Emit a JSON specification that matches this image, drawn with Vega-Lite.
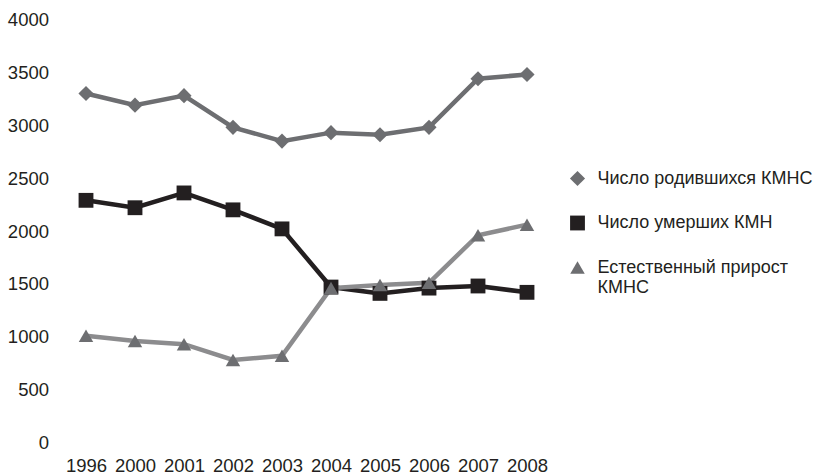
{
  "$schema": "https://vega.github.io/schema/vega-lite/v6.json",
  "width": 490,
  "height": 423,
  "autosize": {"type": "none"},
  "padding": {"left": 61.5, "top": 19.5, "right": 270.5, "bottom": 33.5},
  "background": "white",
  "config": {
    "view": {"stroke": null},
    "font": "Liberation Sans",
    "axis": {"labelFont": "Liberation Sans", "labelFontSize": 18.5, "labelColor": "#231f20", "domain": false, "ticks": false, "tickSize": 0, "grid": false, "title": null},
    "legend": {"labelFont": "Liberation Sans", "labelFontSize": 18, "labelColor": "#231f20"}
  },
  "data": {
    "values": [
      {"year": "1996", "series": "Число родившихся КМНС", "value": 3300},
      {"year": "2000", "series": "Число родившихся КМНС", "value": 3190},
      {"year": "2001", "series": "Число родившихся КМНС", "value": 3280},
      {"year": "2002", "series": "Число родившихся КМНС", "value": 2980},
      {"year": "2003", "series": "Число родившихся КМНС", "value": 2850},
      {"year": "2004", "series": "Число родившихся КМНС", "value": 2930},
      {"year": "2005", "series": "Число родившихся КМНС", "value": 2910},
      {"year": "2006", "series": "Число родившихся КМНС", "value": 2980},
      {"year": "2007", "series": "Число родившихся КМНС", "value": 3440},
      {"year": "2008", "series": "Число родившихся КМНС", "value": 3480},
      {"year": "1996", "series": "Число умерших КМН", "value": 2290},
      {"year": "2000", "series": "Число умерших КМН", "value": 2220},
      {"year": "2001", "series": "Число умерших КМН", "value": 2360},
      {"year": "2002", "series": "Число умерших КМН", "value": 2200},
      {"year": "2003", "series": "Число умерших КМН", "value": 2020},
      {"year": "2004", "series": "Число умерших КМН", "value": 1470},
      {"year": "2005", "series": "Число умерших КМН", "value": 1410},
      {"year": "2006", "series": "Число умерших КМН", "value": 1460},
      {"year": "2007", "series": "Число умерших КМН", "value": 1480},
      {"year": "2008", "series": "Число умерших КМН", "value": 1420},
      {"year": "1996", "series": "Естественный прирост КМНС", "value": 1010},
      {"year": "2000", "series": "Естественный прирост КМНС", "value": 960},
      {"year": "2001", "series": "Естественный прирост КМНС", "value": 930},
      {"year": "2002", "series": "Естественный прирост КМНС", "value": 780},
      {"year": "2003", "series": "Естественный прирост КМНС", "value": 820},
      {"year": "2004", "series": "Естественный прирост КМНС", "value": 1460},
      {"year": "2005", "series": "Естественный прирост КМНС", "value": 1490},
      {"year": "2006", "series": "Естественный прирост КМНС", "value": 1510},
      {"year": "2007", "series": "Естественный прирост КМНС", "value": 1960},
      {"year": "2008", "series": "Естественный прирост КМНС", "value": 2060}
    ]
  },
  "encoding": {
    "x": {"field": "year", "type": "ordinal", "scale": {"type": "point", "padding": 0.5}, "axis": {"labelAngle": 0, "labelPadding": 14}},
    "y": {"field": "value", "type": "quantitative", "scale": {"domain": [0, 4000], "nice": false}, "axis": {"values": [0, 500, 1000, 1500, 2000, 2500, 3000, 3500, 4000], "format": "d", "labelPadding": 13}}
  },
  "layer": [
    {
      "mark": {"type": "line", "strokeWidth": 4.5},
      "encoding": {
        "color": {"field": "series", "type": "nominal", "scale": {"domain": ["Число родившихся КМНС", "Число умерших КМН", "Естественный прирост КМНС"], "range": ["#6d6e71", "#231f20", "#8c8c8e"]}, "legend": null}
      }
    },
    {
      "mark": {"type": "point", "filled": true, "opacity": 1},
      "encoding": {
        "color": {"field": "series", "type": "nominal", "scale": {"domain": ["Число родившихся КМНС", "Число умерших КМН", "Естественный прирост КМНС"], "range": ["#6d6e71", "#231f20", "#6d6e71"]},
          "legend": {"title": null, "orient": "none", "legendX": 507, "legendY": 150, "padding": 0, "symbolSize": 85, "labelOffset": 11, "rowPadding": 26.5, "labelLimit": 300,
            "labelExpr": "datum.label == 'Естественный прирост КМНС' ? ['Естественный прирост', 'КМНС'] : datum.label",
            "encode": {
              "symbols": {"update": {"shape": {"signal": "datum.value == 'Число умерших КМН' ? 'square' : datum.value == 'Естественный прирост КМНС' ? 'triangle-up' : 'diamond'"}, "opacity": {"value": 1}}},
              "labels": {"update": {"lineHeight": {"value": 20}}}
            }}},
        "size": {"field": "series", "type": "nominal", "scale": {"domain": ["Число родившихся КМНС", "Число умерших КМН", "Естественный прирост КМНС"], "range": [230, 210, 200]}, "legend": null},
        "shape": {"field": "series", "type": "nominal", "scale": {"domain": ["Число родившихся КМНС", "Число умерших КМН", "Естественный прирост КМНС"], "range": ["diamond", "square", "triangle-up"]}, "legend": null}
      }
    }
  ],
  "resolve": {"scale": {"color": "independent", "size": "independent", "shape": "independent"}, "legend": {"color": "independent", "size": "independent", "shape": "independent"}}
}
